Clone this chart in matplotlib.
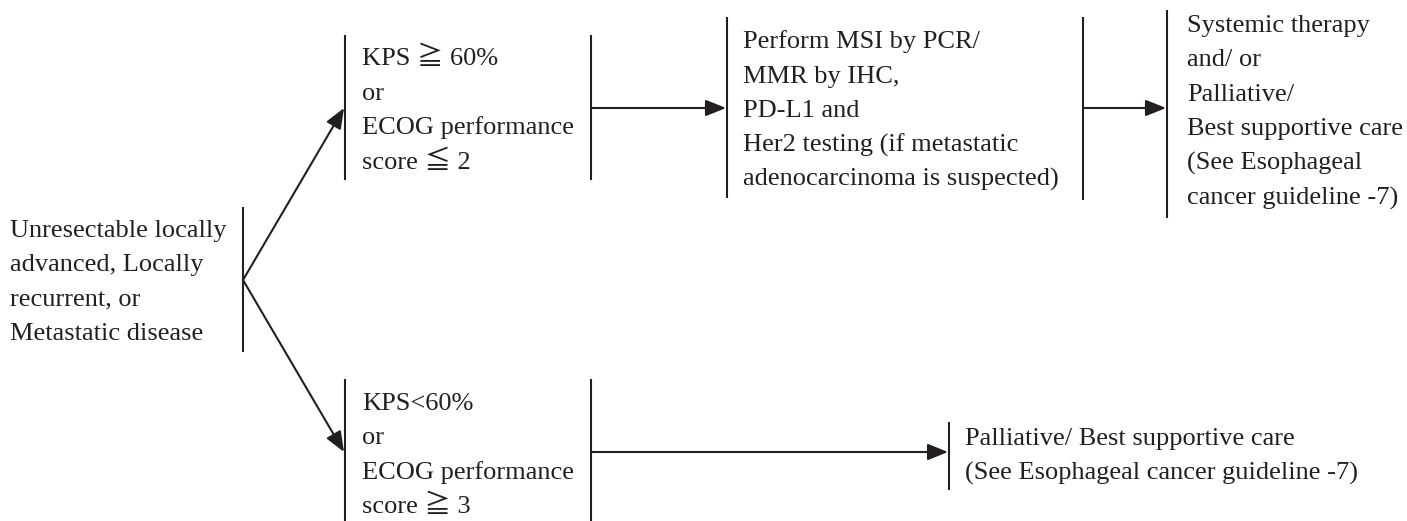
import matplotlib.pyplot as plt

## text of each step (one entry per line)
start_lines = ['Unresectable locally', 'advanced, Locally', 'recurrent, or', 'Metastatic disease']
good_ps_lines = ['KPS \u2267 60%', 'or', 'ECOG performance', 'score \u2266 2']
poor_ps_lines = ['KPS<60%', 'or', 'ECOG performance', 'score \u2267 3']
testing_lines = ['Perform MSI by PCR/', 'MMR by IHC,', 'PD-L1 and',
                 'Her2 testing (if metastatic', 'adenocarcinoma is suspected)']
therapy_lines = ['Systemic therapy', 'and/ or', 'Palliative/', 'Best supportive care',
                 '(See Esophageal', 'cancer guideline -7)']
palliative_lines = ['Palliative/ Best supportive care', '(See Esophageal cancer guideline -7)']

ink = '#231f20'
fonts = ['Liberation Serif', 'Noto Sans CJK JP', 'DejaVu Sans']
fs = 19.0
step = 34.5   # line pitch in px

fig = plt.figure(figsize=(14.07, 5.21), dpi=100)
ax = fig.add_axes([0, 0, 1, 1])
ax.set_xlim(0, 1407)
ax.set_ylim(521, 0)
ax.axis('off')


def block(lines, x, y0):
    for i, s in enumerate(lines):
        ax.text(x, y0 + i * step, s, fontsize=fs, family=fonts, color=ink,
                ha='left', va='baseline')


def bar(x, y0, y1):
    ax.plot([x, x], [y0, y1], color=ink, lw=1.5, solid_capstyle='butt')


def arrow(p0, p1):
    ax.annotate('', xy=p1, xytext=p0,
                arrowprops=dict(arrowstyle='-|>,head_length=0.62,head_width=0.25',
                                mutation_scale=20, color=ink, lw=1.5,
                                shrinkA=0, shrinkB=0))


# starting box
block(start_lines, 10, 237)
bar(243, 207, 352)

# branches
arrow((243, 280), (344, 108))
arrow((243, 280), (344, 452))

# good performance status
block(good_ps_lines, 362, 65)
bar(345, 35, 180)
bar(591, 35, 180)
arrow((591, 108), (726, 108))

# testing
block(testing_lines, 743, 48)
bar(727, 17, 198)
bar(1083, 17, 200)
arrow((1083, 108), (1166, 108))

# therapy
block(therapy_lines, 1187, 32)
bar(1167, 10, 218)

# poor performance status
block(poor_ps_lines, 362, 410)
bar(345, 379, 521)
bar(591, 379, 521)
arrow((591, 452), (948, 452))

# palliative
block(palliative_lines, 965, 445)
bar(949, 422, 490)

fig.savefig('out.png', dpi=100)
